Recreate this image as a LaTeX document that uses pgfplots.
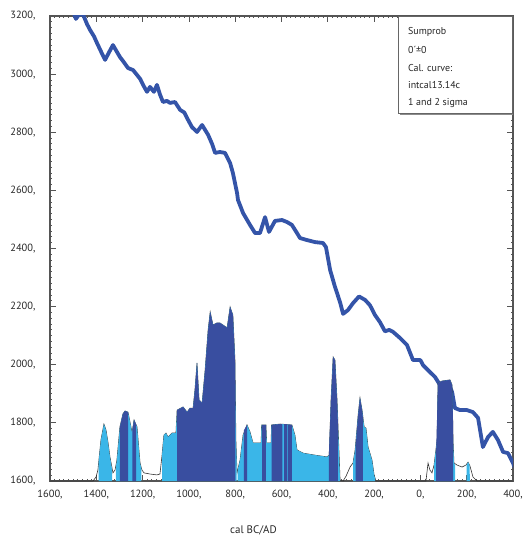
\documentclass[border=0pt]{standalone}
\usepackage{pgfplots}
\pgfplotsset{compat=1.18}
\usepackage{fontspec}
\setmainfont{PT Sans}

\definecolor{calblue}{RGB}{52,84,168}
\definecolor{sigone}{RGB}{57,78,160}
\definecolor{sigtwo}{RGB}{58,182,232}
\definecolor{frame}{RGB}{85,85,85}

\begin{document}
\begin{tikzpicture}
\begin{axis}[
  at={(0,0)}, anchor=south west,
  scale only axis, width=463bp, height=465bp,
  xmin=-1600, xmax=400, ymin=1600, ymax=3200,
  xtick={-1600,-1400,...,400},
  xticklabels={{1600,},{1400,},{1200,},{1000,},{800,},{600,},{400,},{200,},{0,},{200,},{400,}},
  ytick={1600,1800,...,3200},
  yticklabels={{1600,},{1800,},{2000,},{2200,},{2400,},{2600,},{2800,},{3000,},{3200,}},
  minor tick num=9,
  tick align=inside,
  major tick length=6bp, minor tick length=2.5bp,
  axis line style={frame, line width=1.1bp},
  every tick/.style={frame, line width=0.8bp},
  /pgf/number format/assume math mode=true,
  tick label style={font=\fontsize{10.5}{12}\selectfont, text=black!85},
  yticklabel style={xshift=-11bp},
  xticklabel style={yshift=-6bp},
  xlabel={cal BC/AD},
  xlabel style={at={(axis description cs:0.4395,-0.1054)}, anchor=center, font=\fontsize{11}{13}\selectfont, text=black!85},
]

% calibration curve
\addplot[calblue, line width=3.8bp, line join=round] coordinates {
(-1500,3215)(-1488,3190)(-1475,3205)(-1457,3205)(-1440,3172)(-1427,3152)(-1410,3130)(-1397,3107)
(-1375,3070)(-1362,3049)(-1345,3075)(-1328,3100)(-1312,3078)(-1298,3059)(-1280,3040)(-1263,3021)(-1241,3014)
(-1224,2997)(-1210,2983)(-1198,2963)(-1181,2939)(-1168,2956)(-1151,2939)(-1138,2963)
(-1125,2930)(-1112,2904)(-1095,2908)(-1082,2901)(-1060,2904)(-1038,2877)(-1020,2868)(-1008,2849)(-987,2818)
(-965,2801)(-943,2825)(-930,2808)(-917,2791)(-900,2760)(-887,2729)(-866,2732)(-844,2729)
(-822,2694)(-810,2660)(-792,2591)(-788,2567)(-766,2522)(-736,2481)
(-714,2453)(-693,2453)(-671,2508)(-654,2457)(-628,2495)(-598,2498)
(-576,2491)(-555,2481)(-533,2453)(-520,2436)(-490,2429)(-455,2422)
(-421,2419)(-408,2405)(-390,2326)(-369,2268)(-347,2215)(-334,2175)
(-313,2188)(-291,2212)(-265,2235)(-239,2223)(-218,2205)(-196,2171)
(-175,2147)(-153,2115)(-135,2120)(-118,2113)(-88,2092)(-58,2068)(-32,2016)
(0,2016)(11,1999)(41,1975)(63,1958)(85,1930)(119,1941)(137,1906)
(149,1851)(171,1844)(201,1844)(227,1837)(249,1817)(270,1717)
(292,1751)(313,1769)(335,1741)(357,1700)(378,1696)(400,1662)(410,1640)
};

% summed probability, outline
\addplot[black!80, line width=0.6bp] coordinates {
(-1600,1600)(-1414,1600)(-1401,1614)(-1393,1638)(-1380,1741)(-1367,1796)
(-1358,1775)(-1349,1731)(-1341,1683)(-1328,1628)(-1319,1638)(-1311,1672)
(-1298,1786)(-1285,1831)(-1276,1841)(-1263,1837)(-1250,1786)(-1246,1765)
(-1237,1810)(-1224,1786)(-1211,1662)(-1203,1638)(-1194,1628)(-1168,1624)
(-1138,1621)(-1125,1624)(-1116,1689)(-1108,1758)(-1099,1765)(-1090,1751)
(-1073,1765)(-1056,1765)(-1051,1844)(-1025,1855)(-1008,1837)(-995,1851)
(-982,1851)(-974,1913)(-965,2006)(-956,1879)(-943,1868)(-930,1982)
(-917,2120)(-908,2182)(-896,2137)(-879,2144)(-866,2144)(-853,2137)
(-835,2127)(-822,2199)(-810,2171)(-801,2016)(-797,1741)(-792,1628)
(-779,1672)(-766,1758)(-749,1793)(-736,1769)(-723,1731)(-706,1731)
(-688,1731)(-686,1793)(-667,1793)(-664,1731)(-645,1731)(-643,1793)
(-606,1796)(-555,1793)(-542,1758)(-533,1707)(-507,1696)(-455,1689)
(-403,1683)(-394,1689)(-386,1879)(-377,2027)(-369,2016)(-360,1879)
(-347,1603)(-334,1600)(-321,1617)(-304,1648)(-291,1662)(-282,1707)
(-269,1827)(-261,1886)(-252,1844)(-243,1786)(-235,1782)(-226,1717)
(-218,1696)(-209,1672)(-200,1621)(-192,1600)(24,1600)(33,1662)
(41,1638)(50,1628)(59,1655)(72,1741)(76,1937)(93,1944)(128,1948)
(137,1930)(141,1741)(145,1662)(158,1655)(180,1648)(197,1655)
(206,1665)(214,1652)(227,1614)(245,1600)(400,1600)
};

% 2 sigma ranges
\addplot[fill=sigtwo, draw=none] coordinates {
(-1390,1600)(-1390,1665)(-1380,1741)(-1367,1796)(-1358,1775)(-1349,1731)
(-1341,1683)(-1332,1640)(-1332,1600)};
\addplot[fill=sigtwo, draw=none] coordinates {
(-1315,1600)(-1315,1650)(-1311,1672)(-1298,1786)(-1285,1831)(-1276,1841)
(-1263,1837)(-1250,1786)(-1246,1765)(-1237,1810)(-1224,1786)(-1211,1662)
(-1205,1642)(-1205,1600)};
\addplot[fill=sigtwo, draw=none] coordinates {
(-1116,1600)(-1116,1689)(-1108,1758)(-1099,1765)(-1090,1751)(-1073,1765)
(-1056,1765)(-1051,1844)(-1025,1855)(-1008,1837)(-995,1851)(-982,1851)
(-974,1913)(-965,2006)(-956,1879)(-943,1868)(-930,1982)(-917,2120)
(-908,2182)(-896,2137)(-879,2144)(-866,2144)(-853,2137)(-835,2127)
(-822,2199)(-810,2171)(-801,2016)(-797,1741)(-794,1680)(-794,1600)};
\addplot[fill=sigtwo, draw=none] coordinates {
(-790,1600)(-790,1635)(-779,1672)(-766,1758)(-749,1793)(-736,1769)
(-723,1731)(-706,1731)(-688,1731)(-686,1793)(-667,1793)(-664,1731)
(-645,1731)(-643,1793)(-606,1796)(-555,1793)(-542,1758)(-533,1707)
(-507,1696)(-455,1689)(-403,1683)(-394,1689)(-386,1879)(-377,2027)
(-369,2016)(-360,1879)(-350,1660)(-347,1600)};
\addplot[fill=sigtwo, draw=none] coordinates {
(-291,1600)(-291,1662)(-282,1707)(-269,1827)(-261,1886)(-252,1844)
(-243,1786)(-235,1782)(-226,1717)(-218,1696)(-209,1672)(-200,1621)
(-196,1610)(-196,1600)};
\addplot[fill=sigtwo, draw=none] coordinates {
(59,1600)(59,1655)(72,1741)(76,1937)(93,1944)(128,1948)(137,1930)
(141,1741)(145,1662)(150,1655)(150,1600)};
\addplot[fill=sigtwo, draw=none] coordinates {
(200,1600)(200,1655)(206,1665)(212,1656)(214,1600)};

% 1 sigma ranges
\addplot[fill=sigone, draw=none] coordinates {
(-1298,1600)(-1298,1786)(-1285,1831)(-1276,1841)(-1263,1837)(-1263,1600)};
\addplot[fill=sigone, draw=none] coordinates {
(-1244,1600)(-1244,1775)(-1237,1810)(-1228,1795)(-1228,1600)};
\addplot[fill=sigone, draw=none] coordinates {
(-1051,1600)(-1051,1844)(-1025,1855)(-1008,1837)(-995,1851)(-982,1851)
(-974,1913)(-965,2006)(-956,1879)(-943,1868)(-930,1982)(-917,2120)
(-908,2182)(-896,2137)(-879,2144)(-866,2144)(-853,2137)(-835,2127)
(-822,2199)(-810,2171)(-801,2016)(-799,1900)(-799,1600)};
\addplot[fill=sigone, draw=none] coordinates {
(-762,1600)(-762,1775)(-749,1793)(-749,1600)};
\addplot[fill=sigone, draw=none] coordinates {
(-686,1600)(-686,1793)(-667,1793)(-667,1600)};
\addplot[fill=sigone, draw=none] coordinates {
(-643,1600)(-643,1793)(-606,1796)(-596,1795)(-596,1600)};
\addplot[fill=sigone, draw=none] coordinates {
(-591,1600)(-591,1795)(-578,1795)(-578,1600)};
\addplot[fill=sigone, draw=none] coordinates {
(-574,1600)(-574,1794)(-555,1793)(-555,1600)};
\addplot[fill=sigone, draw=none] coordinates {
(-395,1600)(-395,1700)(-386,1879)(-377,2027)(-369,2016)(-360,1879)
(-356,1790)(-356,1600)};
\addplot[fill=sigone, draw=none] coordinates {
(-280,1600)(-280,1715)(-269,1827)(-261,1886)(-252,1844)(-248,1815)(-248,1600)};
\addplot[fill=sigone, draw=none] coordinates {
(68,1600)(68,1700)(76,1937)(93,1944)(128,1948)(137,1930)(141,1800)(141,1600)};

% info box
\fill[black!45] ([xshift=1.5bp,yshift=-1.5bp]rel axis cs:0.752,0.791) rectangle ([xshift=1.5bp]rel axis cs:0.998,1.0);
\filldraw[fill=white, draw=black!60, line width=0.6bp] (rel axis cs:0.752,0.791) rectangle (rel axis cs:0.998,1.0);
\begin{scope}[every node/.style={anchor=west, inner sep=0pt, font=\fontsize{10}{12}\selectfont, text=black!85}]
\node at (rel axis cs:0.773,0.9656) {Sumprob};
\node at (rel axis cs:0.773,0.927) {0´±0};
\node at (rel axis cs:0.773,0.888) {Cal. curve:};
\node at (rel axis cs:0.773,0.851) {intcal13.14c};
\node at (rel axis cs:0.773,0.813) {1 and 2 sigma};
\end{scope}
\end{axis}
\pgfresetboundingbox
\path (-50bp,-58bp) rectangle (475bp,481bp);
\end{tikzpicture}
\end{document}
